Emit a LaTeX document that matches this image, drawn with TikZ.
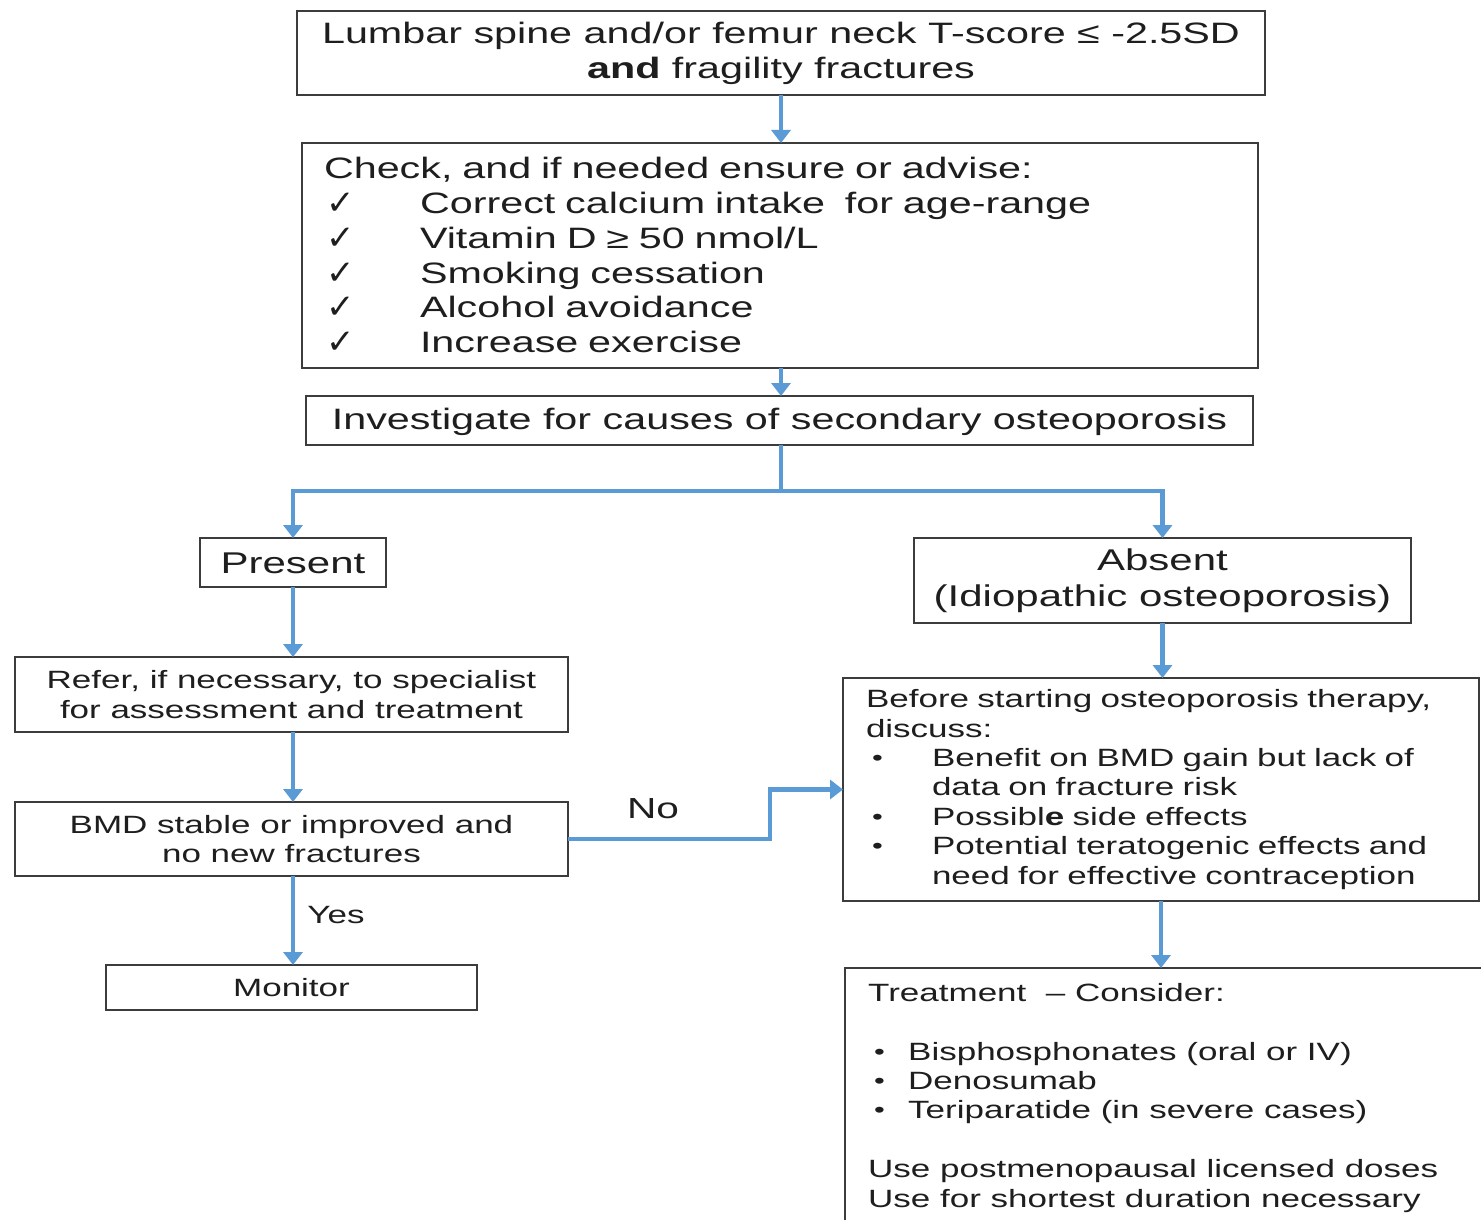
\documentclass[tikz,border=0pt]{standalone}
\usepackage{fontspec}
\setmainfont{Liberation Sans}[FakeStretch=1.4]
\newfontfamily\chkfont{DejaVu Sans}
\usetikzlibrary{arrows.meta,calc}
\definecolor{arrblue}{HTML}{5B9BD5}
\definecolor{edge}{HTML}{3C3C3C}
\definecolor{ink}{HTML}{1E1E1E}
\newcommand{\bigf}{\fontsize{29.5}{34.8}\selectfont}
\newcommand{\absf}{\fontsize{30}{36}\selectfont}
\newcommand{\smallf}{\fontsize{25}{29.4}\selectfont}
\newcommand{\chkm}{\makebox[96pt][l]{\hspace{2pt}\raisebox{-1pt}{\chkfont\fontsize{34}{34}\selectfont ✓}}}
\newcommand{\bul}[1]{\makebox[#1][l]{\hspace{6pt}\raisebox{1pt}{\fontsize{22}{22}\selectfont •}}}
\begin{document}
\begin{tikzpicture}[x=1pt,y=-1pt,
  box/.style={draw=edge, line width=1.6pt, inner sep=0pt, outer sep=0pt, text=ink, fill=white},
  arr/.style={draw=arrblue, line width=4.5pt, -{Triangle[width=19pt,length=13pt]}},
  lbl/.style={text=ink, inner sep=0pt}]
\useasboundingbox (0,0) rectangle (1481,1220);
\clip (0,0) rectangle (1481,1220);
\fill[white] (0,0) rectangle (1481,1220);

\node[box, minimum width=968pt, minimum height=84pt, align=center, font=\bigf] (top) at (781,53)
  {Lumbar spine and/or femur neck T-score ≤ -2.5SD\\\textbf{and} fragility fractures};

\node[box, minimum width=956pt, minimum height=225pt, text width=912pt, align=left, font=\bigf] (check) at (780,255.5)
  {Check, and if needed ensure or advise:\\
   \chkm Correct calcium intake\ \ for age-range\\
   \chkm Vitamin D ≥ 50 nmol/L\\
   \chkm Smoking cessation\\
   \chkm Alcohol avoidance\\
   \chkm Increase exercise};

\node[box, minimum width=947pt, minimum height=49pt, font=\bigf, text height=25pt] (inv) at (779.5,420.5)
  {Investigate for causes of secondary osteoporosis};

\node[box, minimum width=186pt, minimum height=49pt, font=\absf, text height=23pt] (present) at (293,562.5) {Present};

\node[box, minimum width=497pt, minimum height=85pt, align=center, font=\absf] (absent) at (1162.5,580.5)
  {Absent\\(Idiopathic osteoporosis)};

\node[box, minimum width=553pt, minimum height=75pt, align=center, font=\smallf] (refer) at (291.5,694.5)
  {Refer, if necessary, to specialist\\for assessment\ and treatment};

\node[box, minimum width=553pt, minimum height=74pt, align=center, font=\smallf] (bmd) at (291.5,839)
  {BMD stable or improved and\\no new fractures};

\node[box, minimum width=371pt, minimum height=45pt, font=\smallf] (monitor) at (291.5,987.5) {Monitor};

\node[box, minimum width=636pt, minimum height=223pt, text width=590pt, align=left, font=\smallf] (before) at (1161,789.5)
  {Before starting\ osteoporosis therapy,\\
   discuss:\\
   \bul{66pt}Benefit on BMD gain but lack of\\
   \hspace*{66pt}data on fracture risk\\
   \bul{66pt}Possibl\textbf{e} side effects\\
   \bul{66pt}Potential teratogenic effects and\\
   \hspace*{66pt}need for effective\ contraception};

\node[box, minimum width=655pt, minimum height=272pt] (treat) at (1172.5,1104) {};
\node[lbl, anchor=north west, align=left, font=\smallf] (treattext) at (868,983)
  {Treatment\ \ -- Consider:\\[29.4pt]
   \bul{40pt}Bisphosphonates (oral or IV)\\
   \bul{40pt}Denosumab\\
   \bul{40pt}Teriparatide (in severe cases)\\[29.4pt]
   Use postmenopausal licensed doses\\
   Use for shortest duration necessary};

\coordinate (jog) at (770,0);
\coordinate (split) at (0,491);

\draw[arr] (top.south) -- (top.south |- check.north);
\draw[arr] (top.south |- check.south) -- (top.south |- inv.north);
\draw[arr] (top.south |- inv.south) -- (top.south |- split) -| (present.north);
\draw[arr] (top.south |- inv.south) -- (top.south |- split) -| (absent.north);
\draw[arr] (present.south) -- (present.south |- refer.north);
\draw[arr] (absent.south) -- (absent.south |- before.north);
\draw[arr] (present.south |- refer.south) -- (present.south |- bmd.north);
\draw[arr] (present.south |- bmd.south) -- (present.south |- monitor.north);
\draw[arr] (bmd.east) -- (bmd.east -| jog) |- (before.west);
\draw[arr] (before.south) -- (before.south |- treat.north);

\node[lbl, font=\fontsize{25}{25}\selectfont] (yes) at (336,915) {Yes};
\node[lbl, font=\fontsize{29}{29}\selectfont] (no) at (653,809) {No};
\end{tikzpicture}
\end{document}
